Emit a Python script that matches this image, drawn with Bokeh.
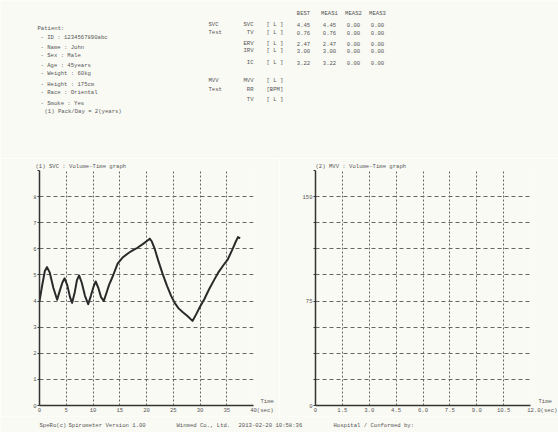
from bokeh.plotting import figure
from bokeh.layouts import column, row
from bokeh.models import Range1d, FixedTicker, LinearAxis, PrintfTickFormatter
from bokeh.embed import file_html
from bokeh.resources import INLINE
from bokeh.core.properties import value

# ---------------- data ----------------
svc_time = [0.0, 0.5, 1.0, 1.4, 1.9, 2.6, 3.3, 3.8, 4.3, 4.7,
            5.2, 5.7, 6.1, 6.6, 7.0, 7.4, 7.9, 8.5, 9.1, 9.6,
            10.1, 10.5, 11.0, 11.5, 12.0, 12.5, 13.0, 13.7, 14.6, 15.6,
            16.7, 17.5, 18.3, 19.3, 20.2, 20.6, 21.0, 21.5, 22.2, 23.0,
            23.8, 24.6, 25.3, 26.0, 26.8, 27.7, 28.6, 29.3, 30.0, 30.8,
            31.7, 32.7, 33.5, 34.4, 35.2, 36.0, 36.7, 37.1, 37.5]
svc_volume = [4.0, 4.6, 5.15, 5.3, 5.1, 4.5, 4.05, 4.4, 4.72, 4.87,
              4.6, 4.15, 3.93, 4.35, 4.8, 4.98, 4.7, 4.2, 3.88, 4.2,
              4.55, 4.75, 4.5, 4.15, 4.0, 4.3, 4.62, 4.95, 5.43, 5.68,
              5.85, 5.95, 6.04, 6.18, 6.32, 6.39, 6.28, 6.02, 5.55, 5.05,
              4.6, 4.2, 3.92, 3.72, 3.57, 3.42, 3.24, 3.5, 3.78, 4.07,
              4.45, 4.83, 5.12, 5.38, 5.6, 5.95, 6.28, 6.45, 6.4]
svc_x_ticks = [0, 5, 10, 15, 20, 25, 30, 35, 40]
svc_y_ticks = [0, 1, 2, 3, 4, 5, 6, 7, 8, 9]
svc_y_hidden = [9]

mvv_x_ticks = [0, 1.5, 3.0, 4.5, 6.0, 7.5, 9.0, 10.5, 12.0]
mvv_y_ticks = [0, 18.75, 37.5, 56.25, 75, 93.75, 112.5, 131.25, 150, 168.75]
mvv_y_shown = [0, 75, 150]

patient_lines = ["Patient:", "- ID : 1234567890abc", "- Name : John", "- Sex : Male",
                 "- Age :  45years", "- Weight :  60kg", "- Height : 175cm",
                 "- Race : Oriental", "- Smoke : Yes", "(1) Pack/Day = 2(years)"]
table_columns = ["BEST", "MEAS1", "MEAS2", "MEAS3"]
svc_params = ["SVC", "TV", "ERV", "IRV", "IC"]
svc_units = ["[ L ]", "[ L ]", "[ L ]", "[ L ]", "[ L ]"]
svc_best = ["4.45", "0.76", "2.47", "3.00", "3.22"]
svc_meas1 = ["4.45", "0.76", "2.47", "3.00", "3.22"]
svc_meas2 = ["0.00", "0.00", "0.00", "0.00", "0.00"]
svc_meas3 = ["0.00", "0.00", "0.00", "0.00", "0.00"]
mvv_params = ["MVV", "RR", "TV"]
mvv_units = ["[ L ]", "[BPM]", "[ L ]"]
footer_items = ["SpeRo(c)", "Spirometer Version 1.00", "Winmed Co., Ltd.",
                "2013-02-20 10:58:36", "Hospital / Conformed by:"]
time_word = "Time"
sec_word = "(sec)"

# ---------------- style ----------------
FONT = "Liberation Mono"
BG = "#fafaf4"
TXT = "#555555"
FS = "5.6px"
W = 558
NB = "\u00a0"


def blank(width, height):
    f = figure(width=width, height=height, x_range=Range1d(0, width), y_range=Range1d(height, 0),
               output_backend="svg", toolbar_location=None, x_axis_location=None,
               y_axis_location=None, min_border=0, background_fill_color=BG,
               border_fill_color=BG, outline_line_color=None)
    f.grid.visible = False
    return f


def write(f, xs, ys, texts, align="left", size=FS):
    f.text(x=xs, y=ys, text=texts, text_font=value(FONT), text_font_size=size,
           text_color=TXT, text_align=align, text_baseline="middle")


# ---------------- header block (canvas pixel coordinates) ----------------
top = blank(W, 158)
py = [28, 37, 47, 55, 65, 73, 84, 92, 103, 111]
px = [37] + [40] * 8 + [44]
write(top, px, py, patient_lines)

col_cx = [303, 329, 353, 377]
write(top, col_cx, [13] * 4, table_columns, align="center")
row_y = [24, 32, 43, 50, 62]
write(top, [208, 208], [24, 32], ["SVC", "Test"])
write(top, [253] * 5, row_y, svc_params, align="right")
write(top, [266] * 5, row_y, svc_units)
for cx, vals in zip(col_cx, [svc_best, svc_meas1, svc_meas2, svc_meas3]):
    write(top, [cx] * 5, row_y, vals, align="center")
mrow_y = [80, 89, 99]
write(top, [208, 208], [80, 89], ["MVV", "Test"])
write(top, [253] * 3, mrow_y, mvv_params, align="right")
write(top, [266] * 3, mrow_y, mvv_units)


# ---------------- charts ----------------
def chart(xr, yr, xticks, yticks, ml, mr, title, title_off, time_y, time_standoff):
    p = figure(width=279, height=258, x_range=Range1d(*xr), y_range=Range1d(*yr),
               output_backend="svg", toolbar_location=None,
               min_border_left=ml, min_border_right=mr, min_border_top=12, min_border_bottom=9,
               background_fill_color=BG, border_fill_color=BG, outline_line_color=None,
               title=title)
    p.title.text_font = FONT
    p.title.text_font_size = FS
    p.title.text_font_style = "normal"
    p.title.text_color = TXT
    p.title.align = "left"
    p.title.offset = title_off
    p.title.standoff = 2
    xa = p.below[0]
    ya = p.left[0]
    xa.ticker = FixedTicker(ticks=xticks)
    ya.ticker = FixedTicker(ticks=yticks)
    for ax in (xa, ya):
        ax.major_label_text_font = FONT
        ax.major_label_text_font_size = FS
        ax.major_label_text_color = TXT
        ax.major_tick_in = 0
        ax.minor_tick_out = 0
        ax.minor_tick_in = 0
        ax.axis_line_color = "#333333"
        ax.axis_line_width = 1.5
        ax.major_tick_line_color = "#333333"
    xa.major_tick_out = 0
    xa.major_label_standoff = 1
    ya.major_tick_out = 2
    ya.major_label_standoff = 1
    p.xgrid.grid_line_color = "#666666"
    p.xgrid.grid_line_dash = "2 2"
    p.ygrid.grid_line_color = "#666666"
    p.ygrid.grid_line_dash = "4 3"
    # "Time" caption right of the frame, just above the time axis
    side = LinearAxis(ticker=FixedTicker(ticks=[time_y]), major_label_overrides={time_y: time_word},
                      axis_line_color=None, major_tick_line_color=None, major_tick_out=0,
                      major_tick_in=0, minor_tick_out=0, minor_tick_in=0,
                      major_label_standoff=time_standoff, major_label_text_font=FONT,
                      major_label_text_font_size=FS, major_label_text_color=TXT)
    p.add_layout(side, "right")
    return p, xa, ya


left, lx, ly = chart((0, 40), (0, 9), svc_x_ticks, svc_y_ticks, 39, 26,
                     "(1)  SVC : Volume-Time graph", -4, 0.15, 7)
ly.major_label_overrides = {t: "" for t in svc_y_hidden}
lx.major_label_overrides = {svc_x_ticks[-1]: NB * 5 + str(svc_x_ticks[-1]) + sec_word}
left.line(svc_time, svc_volume, line_color="#2a2a2a", line_width=2, line_join="round")

right, rx, ry = chart((0, 12), (0, 168.75), mvv_x_ticks, mvv_y_ticks, 36, 28,
                      "(2)  MVV : Volume-Time graph", 0, 3.0, 8)
rx.formatter = PrintfTickFormatter(format="%.1f")
rx.major_label_overrides = {0: "0", mvv_x_ticks[-1]: NB * 7 + "%.1f" % mvv_x_ticks[-1] + sec_word}
ry.major_label_overrides = {t: ("" if t not in mvv_y_shown else str(int(t)))
                            for t in mvv_y_ticks}

# ---------------- footer ----------------
foot = blank(W, 16)
fx = [39, 68, 176, 238, 333]
write(foot, fx, [9] * 5, footer_items)

layout = column(top, row(left, right), foot)
open("out.html", "w").write(file_html(layout, INLINE))
